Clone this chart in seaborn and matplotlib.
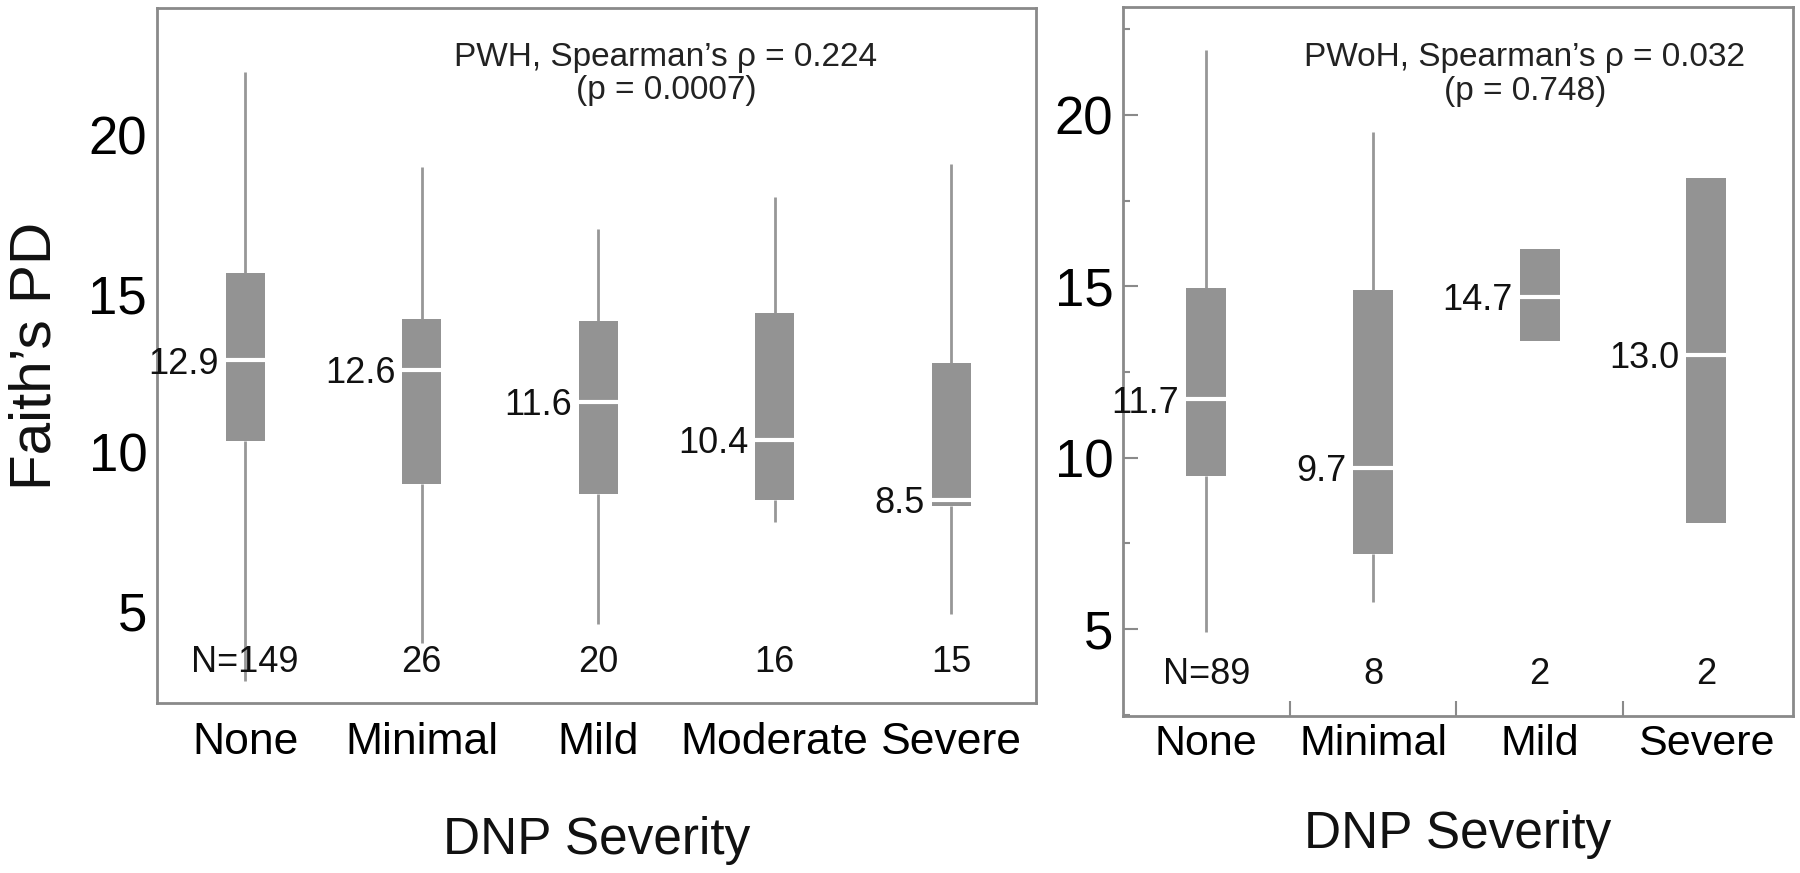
import matplotlib
matplotlib.use("Agg")
import matplotlib.pyplot as plt
from matplotlib.ticker import MultipleLocator, FixedLocator
import pandas as pd
import seaborn as sns

# PWH panel: five-number summaries
severity_pwh = ["None", "Minimal", "Mild", "Moderate", "Severe"]
pwh_low = [2.8, 4.0, 4.6, 7.8, 4.9]
pwh_q1 = [10.35, 9.0, 8.7, 8.5, 8.3]
pwh_median = [12.9, 12.6, 11.6, 10.4, 8.5]
pwh_q3 = [15.65, 14.2, 14.15, 14.4, 12.8]
pwh_high = [22.0, 19.0, 17.05, 18.05, 19.1]
pwh_n = [149, 26, 20, 16, 15]

# PWoH panel
severity_pwoh = ["None", "Minimal", "Mild", "Severe"]
pwoh_low = [4.9, 5.8, 13.4, 8.1]
pwoh_q1 = [9.45, 7.2, 13.4, 8.1]
pwoh_median = [11.7, 9.7, 14.7, 13.0]
pwoh_q3 = [14.95, 14.9, 16.1, 18.15]
pwoh_high = [21.9, 19.5, 16.1, 18.15]
pwoh_n = [89, 8, 2, 2]

BOX = "#939393"
WHISK = "#979797"
SPINE = "#8a8a8a"
INK = "#111111"


def five_number_frame(cats, low, q1, med, q3, high):
    # 5 points per group -> quartiles land exactly on q1/median/q3
    rows = []
    for c, *vals in zip(cats, low, q1, med, q3, high):
        rows += [(c, v) for v in vals]
    return pd.DataFrame(rows, columns=["severity", "pd"])


sns.set_style("white")
plt.rcParams["font.family"] = ["Liberation Sans", "DejaVu Sans"]
plt.rcParams["text.color"] = INK
plt.rcParams["axes.labelcolor"] = INK

fig = plt.figure(figsize=(18, 8.73), dpi=100)
ax1 = fig.add_axes([0.0872, 0.1947, 0.4883, 0.7961])
ax2 = fig.add_axes([0.6239, 0.1798, 0.3722, 0.8122])


def draw_panel(ax, cats, low, q1, med, q3, high, counts, width, title, tx):
    df = five_number_frame(cats, low, q1, med, q3, high)
    sns.boxplot(data=df, x="severity", y="pd", order=cats, ax=ax,
                width=width, whis=(0, 100), color=BOX, saturation=1,
                showcaps=False, showfliers=False,
                boxprops=dict(facecolor=BOX, edgecolor=BOX, linewidth=0),
                whiskerprops=dict(color=WHISK, linewidth=2),
                medianprops=dict(color="white", linewidth=3))
    for i, m in enumerate(med):
        ax.annotate(f"{m:.1f}", xy=(i - width / 2, m), xytext=(-5, 0),
                    textcoords="offset points", ha="right",
                    va="center_baseline", fontsize=26)
    for i, n in enumerate(counts):
        label = f"N={n}" if i == 0 else str(n)
        ax.text(i, 0.064, label, transform=ax.get_xaxis_transform(),
                ha="center", va="center_baseline", fontsize=26)
    ax.text(tx, 0.905, title, transform=ax.transAxes, ha="center",
            va="center", fontsize=24, color="#222222", linespacing=1.1)
    for s in ax.spines.values():
        s.set_color(SPINE)
        s.set_linewidth(2)
    ax.set_xlabel("DNP Severity", fontsize=37)
    ax.set_ylabel("")


draw_panel(ax1, severity_pwh, pwh_low, pwh_q1, pwh_median, pwh_q3, pwh_high,
           pwh_n, 0.22, "PWH, Spearman’s ρ = 0.224\n(p = 0.0007)", 0.579)
draw_panel(ax2, severity_pwoh, pwoh_low, pwoh_q1, pwoh_median, pwoh_q3,
           pwoh_high, pwoh_n, 0.24, "PWoH, Spearman’s ρ = 0.032\n(p = 0.748)",
           0.60)

# left panel
ax1.set_xlim(-0.5, 4.48)
ax1.set_ylim(2.1, 24.0)
ax1.set_yticks([5, 10, 15, 20])
ax1.tick_params(axis="y", length=0, pad=7, labelsize=38, labelcolor="black")
ax1.tick_params(axis="x", length=0, pad=14, labelsize=32, labelcolor="black")
ax1.set_ylabel("Faith’s PD", fontsize=42)
ax1.yaxis.set_label_coords(-0.108, 0.5)
ax1.xaxis.set_label_coords(0.5, -0.163)

# right panel
ax2.set_xlim(-0.5, 3.52)
ax2.set_ylim(2.46, 23.15)
ax2.yaxis.set_major_locator(MultipleLocator(5))
ax2.yaxis.set_minor_locator(MultipleLocator(2.5))
ax2.xaxis.set_minor_locator(FixedLocator([0.5, 1.5, 2.5]))
ax2.tick_params(axis="y", which="major", direction="in", length=11,
                width=1.5, color=SPINE, pad=7, labelsize=38,
                labelcolor="black", left=True)
ax2.tick_params(axis="y", which="minor", direction="in", length=5,
                width=1.5, color=SPINE, left=True)
ax2.tick_params(axis="x", which="major", length=0, pad=6, labelsize=31,
                labelcolor="black")
ax2.tick_params(axis="x", which="minor", direction="in", length=11,
                width=1.5, color=SPINE, bottom=True)
ax2.xaxis.set_label_coords(0.5, -0.133)

fig.savefig("out.png", dpi=100)
